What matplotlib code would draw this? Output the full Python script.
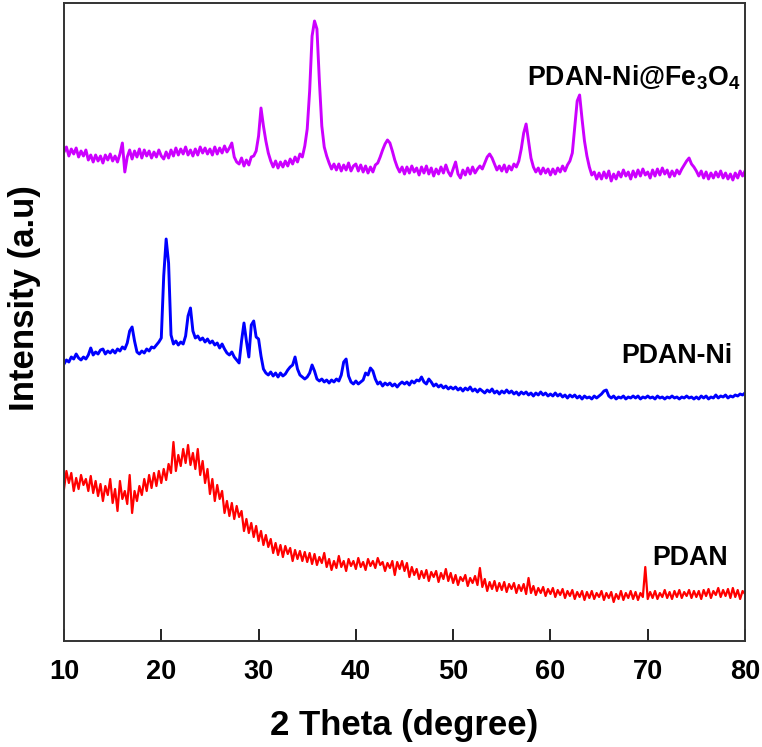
import numpy as np
import matplotlib
matplotlib.use("Agg")
import matplotlib.pyplot as plt

plt.rcParams['font.family'] = ['Liberation Sans', 'DejaVu Sans']
plt.rcParams['mathtext.default'] = 'regular'

# 2-theta scan grid (degrees), 0.25 deg step
two_theta = np.arange(10.0, 80.001, 0.25)

# Intensities (a.u.)
pdan_ni_fe3o4 = [
    489, 494, 485, 492, 487, 493, 484, 490, 485, 491, 481, 486, 479, 486, 480, 485, 478, 486, 481, 487,
    480, 485, 479, 487, 498, 469, 484, 491, 482, 490, 484, 492, 483, 491, 485, 490, 483, 489, 484, 491,
    485, 482, 489, 483, 491, 485, 493, 486, 492, 487, 494, 486, 491, 485, 492, 486, 494, 488, 493, 487,
    492, 486, 494, 487, 493, 488, 495, 489, 493, 498, 484, 479, 477, 483, 475, 481, 476, 484, 485, 490,
    505, 533, 515, 500, 488, 480, 474, 480, 473, 479, 474, 480, 475, 482, 477, 484, 479, 487, 484, 495,
    512, 550, 605, 620, 612, 560, 515, 494, 485, 478, 472, 477, 471, 477, 470, 476, 471, 478, 470, 475,
    477, 470, 476, 469, 475, 468, 474, 469, 476, 478, 484, 491, 497, 501, 498, 490, 481, 474, 469, 474,
    467, 474, 468, 475, 469, 473, 466, 474, 468, 475, 467, 473, 465, 472, 467, 474, 468, 476, 469, 465,
    472, 479, 467, 463, 471, 466, 473, 467, 474, 468, 472, 475, 472, 478, 484, 487, 483, 477, 471, 475,
    470, 476, 469, 475, 471, 477, 474, 480, 492, 508, 517, 500, 483, 474, 469, 473, 467, 473, 468, 472,
    466, 472, 467, 473, 469, 475, 470, 476, 480, 488, 514, 540, 546, 522, 500, 485, 474, 466, 469, 462,
    468, 462, 469, 463, 470, 460, 467, 462, 469, 464, 471, 465, 469, 462, 470, 464, 471, 465, 472, 466,
    469, 463, 471, 465, 472, 466, 473, 467, 471, 464, 470, 465, 471, 467, 472, 476, 480, 483, 477, 474,
    470, 465, 470, 463, 469, 462, 468, 463, 469, 464, 470, 463, 468, 462, 467, 461, 468, 463, 470, 465,
    470,
]

pdan_ni = [
    277, 281, 279, 284, 282, 287, 283, 281, 284, 282, 286, 293, 286, 289, 287, 291, 292, 287, 290, 288,
    291, 288, 292, 290, 294, 292, 298, 310, 314, 300, 289, 287, 290, 288, 292, 290, 294, 293, 296, 299,
    303, 365, 402, 378, 306, 297, 300, 296, 299, 297, 305, 325, 333, 310, 303, 305, 301, 303, 299, 302,
    298, 300, 296, 298, 293, 297, 292, 288, 286, 289, 284, 281, 278, 300, 318, 300, 284, 316, 320, 304,
    302, 285, 272, 268, 266, 269, 265, 268, 264, 268, 265, 267, 271, 274, 276, 284, 272, 266, 264, 262,
    264, 268, 276, 270, 262, 260, 262, 259, 261, 258, 261, 259, 262, 260, 266, 279, 282, 265, 259, 257,
    260, 257, 259, 261, 268, 266, 273, 270, 262, 257, 259, 255, 258, 256, 258, 255, 257, 254, 257, 259,
    257, 259, 256, 260, 258, 261, 260, 264, 259, 257, 262, 259, 255, 257, 254, 256, 253, 255, 252, 254,
    252, 254, 251, 253, 250, 253, 251, 254, 250, 252, 249, 252, 250, 248, 251, 249, 252, 248, 250, 247,
    250, 248, 251, 248, 250, 247, 249, 246, 249, 247, 249, 246, 248, 245, 248, 246, 249, 246, 248, 245,
    247, 245, 248, 245, 247, 244, 246, 243, 246, 244, 246, 243, 245, 242, 245, 243, 244, 242, 245, 243,
    245, 247, 250, 251, 245, 243, 245, 242, 244, 243, 245, 242, 244, 243, 245, 243, 245, 242, 244, 243,
    245, 243, 244, 242, 245, 243, 244, 242, 244, 243, 245, 243, 244, 242, 244, 243, 245, 243, 244, 242,
    244, 242, 245, 243, 245, 242, 244, 243, 246, 243, 245, 244, 246, 243, 245, 244, 246, 245, 247, 246,
    248,
]

pdan = [
    152, 170, 158, 168, 150, 163, 152, 166, 156, 162, 150, 165, 148, 160, 145, 157, 140, 155, 146, 162,
    138, 152, 130, 160, 142, 150, 137, 166, 128, 150, 140, 155, 146, 162, 150, 166, 153, 168, 155, 170,
    158, 172, 161, 177, 168, 199, 170, 186, 175, 192, 178, 196, 176, 188, 172, 192, 166, 180, 158, 172,
    147, 162, 140, 156, 142, 150, 128, 140, 125, 138, 122, 135, 124, 130, 110, 122, 108, 118, 104, 115,
    100, 110, 96, 106, 94, 102, 88, 98, 86, 96, 84, 95, 87, 93, 80, 91, 82, 90, 80, 89,
    79, 88, 77, 87, 76, 84, 78, 88, 74, 82, 71, 80, 73, 85, 74, 80, 70, 82, 75, 80,
    72, 83, 74, 79, 71, 82, 75, 80, 73, 83, 76, 79, 70, 78, 73, 80, 66, 79, 72, 80,
    70, 78, 64, 74, 66, 72, 62, 70, 63, 71, 60, 69, 64, 70, 59, 68, 62, 72, 60, 68,
    58, 66, 56, 64, 60, 66, 55, 63, 58, 65, 56, 73, 54, 62, 50, 59, 52, 60, 50, 58,
    51, 59, 49, 57, 52, 58, 48, 56, 50, 57, 47, 63, 48, 55, 46, 53, 48, 54, 45, 52,
    47, 53, 44, 51, 46, 52, 43, 50, 45, 51, 42, 49, 44, 50, 41, 49, 43, 50, 42, 48,
    44, 50, 41, 48, 43, 49, 39, 47, 42, 50, 41, 48, 43, 50, 42, 49, 41, 48, 44, 74,
    42, 49, 43, 50, 42, 48, 44, 51, 43, 49, 42, 50, 44, 51, 43, 49, 45, 51, 43, 50,
    44, 50, 42, 51, 45, 52, 43, 50, 46, 53, 44, 51, 45, 52, 43, 53, 44, 51, 42, 50,
    47,
]

series_labels = ['PDAN-Ni@Fe$_{3}$O$_{4}$', 'PDAN-Ni', 'PDAN']
x_ticks = [10, 20, 30, 40, 50, 60, 70, 80]

fig = plt.figure(figsize=(7.62, 7.47), dpi=100)
ax = fig.add_axes([64/762, 106/747, 681/762, 638/747])

ax.plot(two_theta, pdan_ni_fe3o4, color='#CC00FF', lw=2.1)
ax.plot(two_theta, pdan_ni, color='#0000FF', lw=2.1)
ax.plot(two_theta, pdan, color='#FF0000', lw=1.6)

ax.set_xlim(10, 80)
ax.set_ylim(0, 638)
ax.set_xticks(x_ticks)
ax.set_xticklabels([str(t) for t in x_ticks], fontsize=19.5, fontweight='bold')
ax.set_yticks([])
ax.tick_params(axis='x', direction='in', length=8.5, width=1.4, pad=13, color='#222222')
for s in ax.spines.values():
    s.set_linewidth(1.4)
    s.set_color('#333333')

ax.set_xlabel('2 Theta (degree)', fontsize=25, fontweight='bold', labelpad=17)
ax.set_ylabel('Intensity (a.u)', fontsize=25, fontweight='bold')
ax.yaxis.set_label_coords(-0.034, 0.5376)

lab_kw = dict(fontsize=19.3, fontweight='bold', ha='right', va='baseline')
ax.text(79.5, 555, series_labels[0], **lab_kw)
ax.text(78.75, 278, series_labels[1], **lab_kw)
ax.text(78.2, 76, series_labels[2], **lab_kw)

fig.savefig('out.png', dpi=100)
